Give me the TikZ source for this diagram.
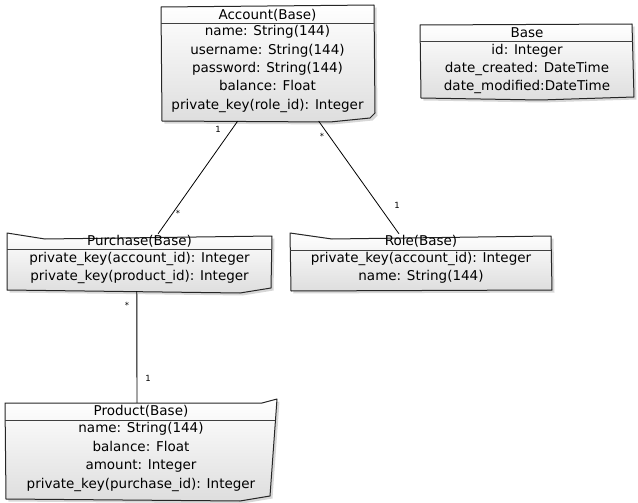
\documentclass[tikz,border=0pt]{standalone}
\usepackage{fontspec}
\setmainfont{DejaVu Sans}
\usetikzlibrary{calc}

% Hand-drawn class frame: soft drop shadow, then a shaded outline
\newcommand\classframe[1]{%
  \fill[black!35, opacity=.45, shift={(2.5,2.5)}] #1 -- cycle;
  \path[frame] #1 -- cycle;}

\begin{document}
\begin{tikzpicture}[x=1pt,y=-1pt,
  frame/.style={draw=black!85, line width=1pt, top color=white, bottom color=black!13, line join=round},
  divider/.style={draw=black!75, line width=1pt},
  anchorbox/.style={draw=none, fill=none, inner sep=0pt},
  title/.style={font=\fontsize{13.5}{15}\selectfont, inner sep=0pt},
  attrs/.style={font=\fontsize{13.5}{18.4}\selectfont, align=center, inner sep=0pt},
  link/.style={draw=black, line width=0.8pt},
  mult/.style={font=\fontsize{8.5}{8.5}\selectfont, inner sep=0pt}]
\useasboundingbox (0,0) rectangle (638,503);

% ---------- Account(Base)
\classframe{(161,7) -- (374,5) -- (375,113) -- (370,118) -- (330,122) -- (162,121)}
\draw[divider] (161,24) -- (374,24);
\node[anchorbox, minimum width=213pt, minimum height=114pt] (account) at (267.5,64) {};
\node[title] (account-title) at (267.5,15) {Account(Base)};
\node[attrs] (account-attrs) at (267.5,69) {name: String(144)\\username: String(144)\\password: String(144)\\balance: Float\\private\_key(role\_id): Integer};

% ---------- Base
\classframe{(420,25) -- (632,24) -- (634,97) -- (540,100) -- (421,98)}
\draw[divider] (420,42) -- (633,42);
\node[anchorbox, minimum width=214pt, minimum height=74pt] (base) at (527,62) {};
\node[title] (base-title) at (527,33) {Base};
\node[attrs] (base-attrs) at (527,69) {id: Integer\\date\_created: DateTime\\date\_modified:DateTime};

% ---------- Purchase(Base)
\classframe{(7,233) -- (45,239) -- (272,236) -- (271,288) -- (240,293) -- (7,290)}
\draw[divider] (7,249) -- (272,249);
\node[anchorbox, minimum width=265pt, minimum height=57pt] (purchase) at (139.5,262.5) {};
\node[title] (purchase-title) at (139.5,241) {Purchase(Base)};
\node[attrs] (purchase-attrs) at (139.5,268) {private\_key(account\_id): Integer\\private\_key(product\_id): Integer};

% ---------- Role(Base)
\classframe{(290,233) -- (332,239) -- (551,236) -- (552,290) -- (291,291)}
\draw[divider] (290,250) -- (551,250);
\node[anchorbox, minimum width=262pt, minimum height=57pt] (role) at (421,262.5) {};
\node[title] (role-title) at (421,241) {Role(Base)};
\node[attrs] (role-attrs) at (421,267.5) {private\_key(account\_id): Integer\\name: String(144)};

% ---------- Product(Base)
\classframe{(5,403) -- (262,403) -- (277,399) -- (270,496) -- (240,501) -- (6,499)}
\draw[divider] (5,420) -- (275,420);
\node[anchorbox, minimum width=272pt, minimum height=96pt] (product) at (141,451) {};
\node[title] (product-title) at (141,411) {Product(Base)};
\node[attrs] (product-attrs) at (141,457) {name: String(144)\\balance: Float\\amount: Integer\\private\_key(purchase\_id): Integer};

% ---------- associations
\draw[link] ($(account.south west)!.36!(account.south east)$) -- ($(purchase.north west)!.57!(purchase.north east)$);
\draw[link] ($(account.south west)!.74!(account.south east)$) -- ($(role.north west)!.416!(role.north east)$);
\draw[link] ($(purchase.south west)!.49!(purchase.south east)$) -- ($(product.north west)!.485!(product.north east)$);

% ---------- multiplicities
\node[mult] (m-acc-pur) at (218,129) {1};
\node[mult] (m-pur-acc) at (178,213) {*};
\node[mult] (m-acc-role) at (322,136) {*};
\node[mult] (m-role-acc) at (397,205) {1};
\node[mult] (m-pur-prod) at (127,305) {*};
\node[mult] (m-prod-pur) at (148,378) {1};
\end{tikzpicture}
\end{document}
